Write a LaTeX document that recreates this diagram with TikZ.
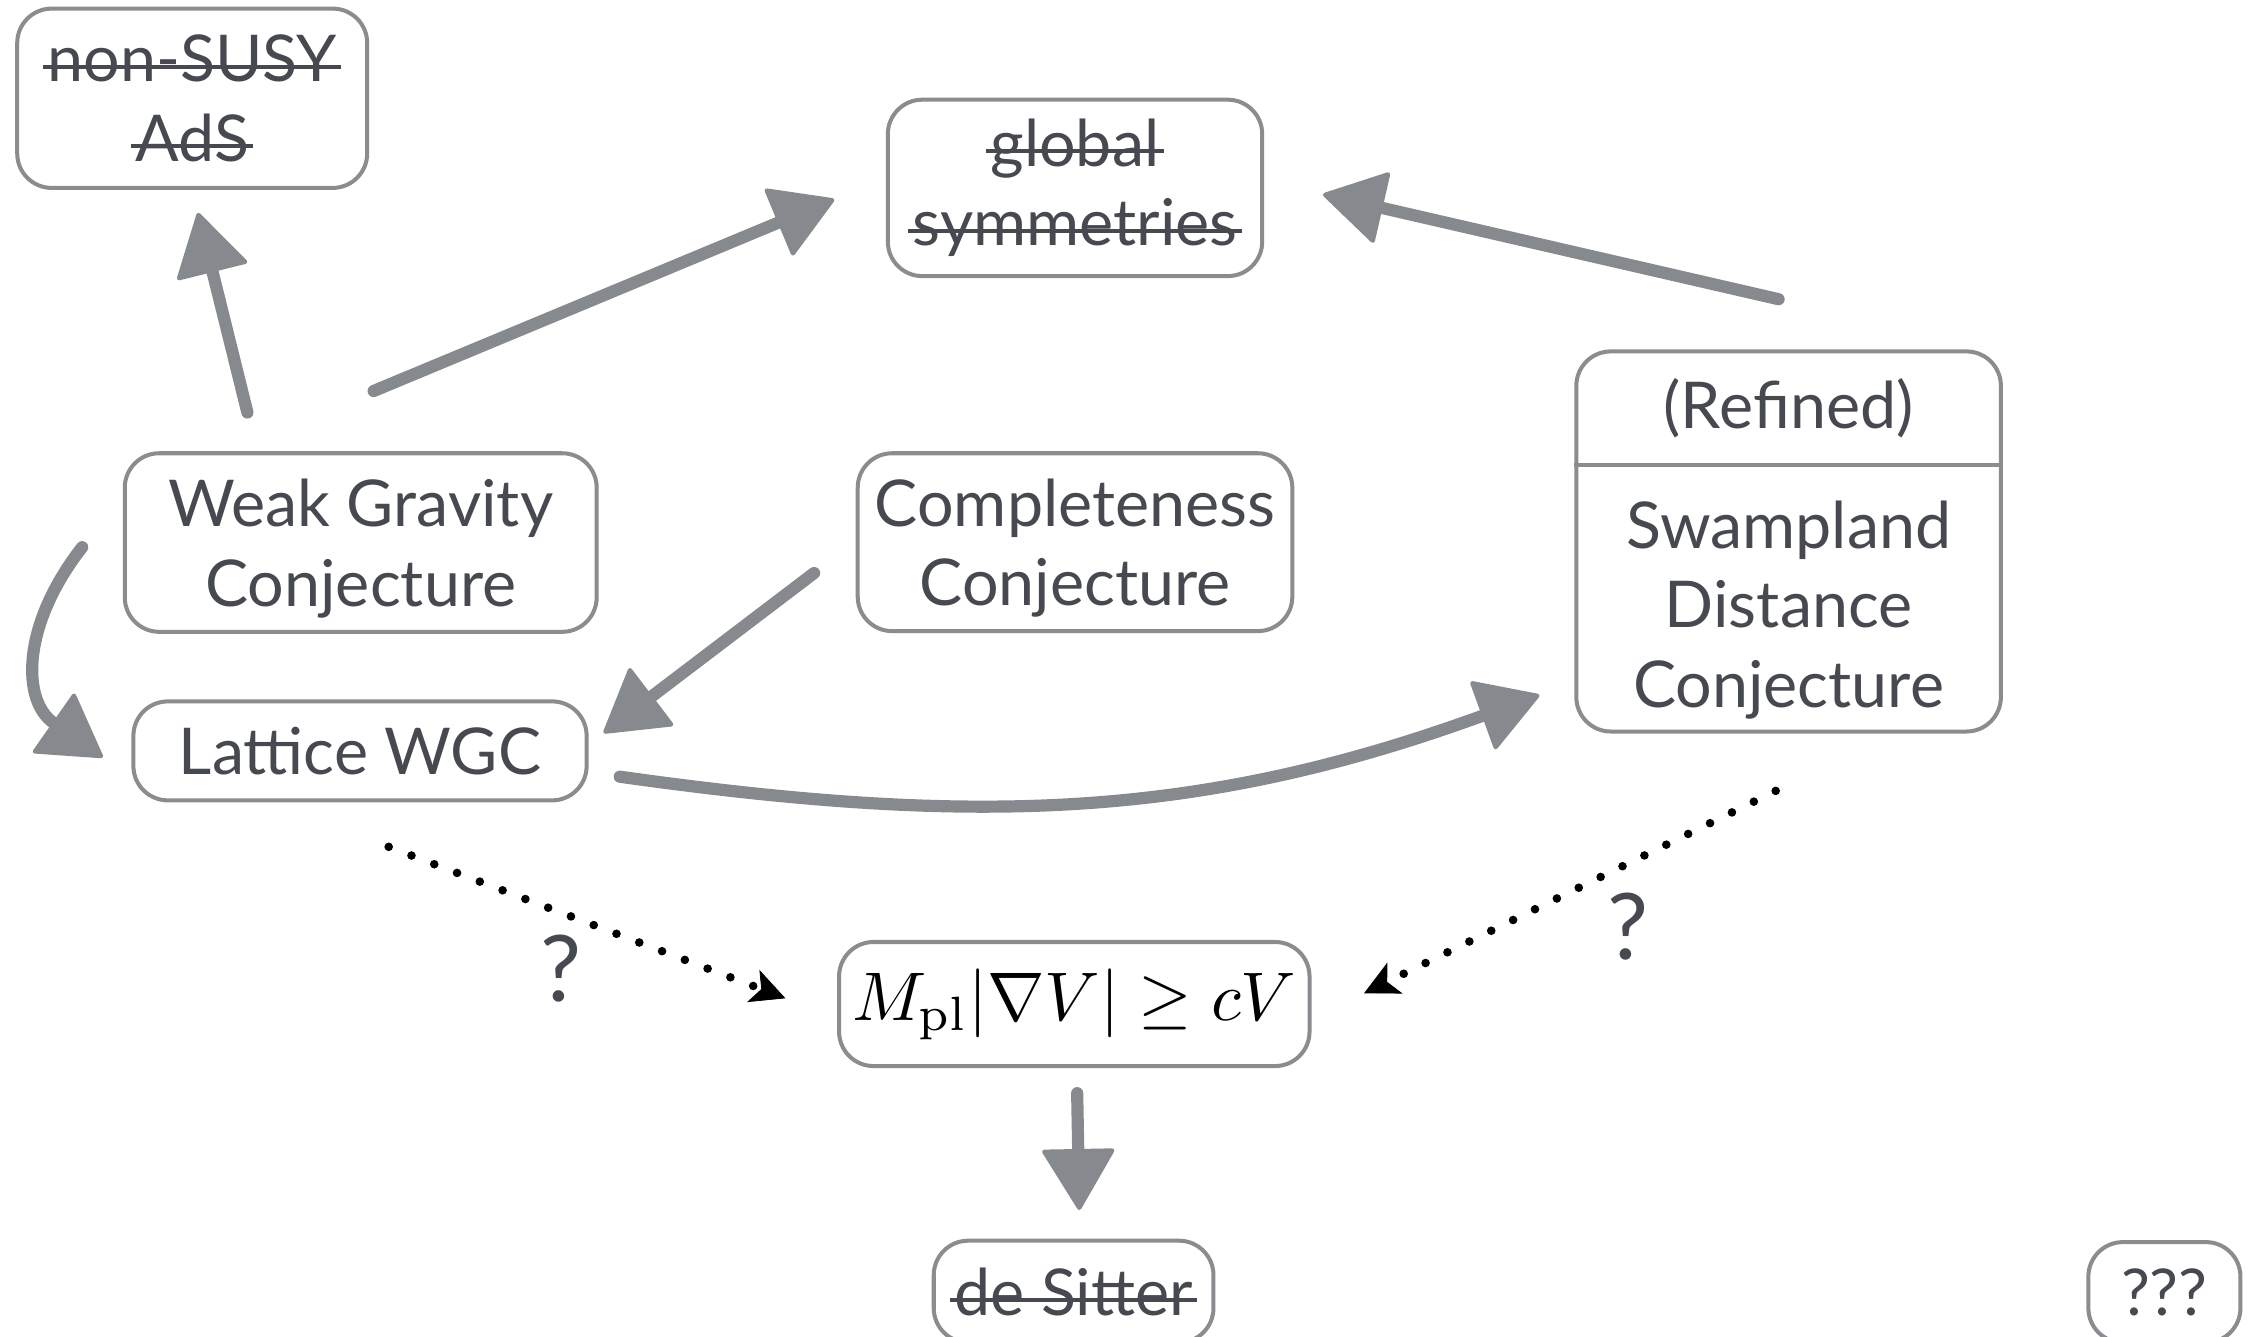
\documentclass[tikz,border=0pt]{standalone}
\usepackage[no-math]{fontspec}
\setmainfont{Lato}
\usetikzlibrary{arrows.meta,calc}
\definecolor{txtc}{HTML}{464A50}
\definecolor{bordc}{HTML}{8A8C90}
\definecolor{arrc}{HTML}{86898D}
\newcommand{\bigtxt}{\fontsize{45}{55.5}\selectfont}
\newcommand{\qtxt}{\fontsize{64}{70}\selectfont}
\newlength{\stkw}
\newcommand{\stk}[1]{\settowidth{\stkw}{#1}\makebox[0pt][l]{\hspace*{-3pt}\rule[0.2em]{\dimexpr\stkw+6pt\relax}{2.8pt}}#1}
\begin{document}
\begin{tikzpicture}[x=1pt,y=-1pt,
  box/.style={draw=bordc, line width=2.8pt, rounded corners=24pt, text=txtc,
    align=center, inner sep=0pt, font=\bigtxt},
  plain/.style={text=txtc, align=center, inner sep=0pt, font=\bigtxt},
  bigarrow/.style={draw=arrc, line width=8.5pt, line cap=round,
    -{Triangle[length=44pt,width=52pt,round,line width=3pt]}},
  dotarrow/.style={draw=black, line width=6pt, line cap=round,
    dash pattern=on 0pt off 17pt,
    -{Stealth[length=24pt,width=24pt,inset=6pt,line width=0.5pt]}},
  qlabel/.style={text=txtc, inner sep=0pt, font=\qtxt}]
\useasboundingbox (0,0) rectangle (1568,932);
\fill[white] (0,0) rectangle (1568,932);
\clip (0,0) rectangle (1568,932);

% nodes
\node[box, minimum width=244pt, minimum height=125pt] (nonsusy) at (134,68.5)
  {\stk{non-SUSY}\\\stk{AdS}};
\node[box, minimum width=261pt, minimum height=123pt] (global) at (749.5,131)
  {\stk{global}\\\stk{symmetries}};
\node[box, minimum width=329pt, minimum height=124.5pt, text depth=0pt] (wgc) at (251.5,378.25)
  {Weak Gravity\\Conjecture};
\node[box, minimum width=303pt, minimum height=124pt, text depth=0pt] (comp) at (749.5,378)
  {Completeness\\Conjecture};
\node[box, minimum width=296pt, minimum height=265pt] (sdc) at (1247,377.5) {};
\coordinate (sdcdiv) at (1247,324);
\draw[draw=bordc, line width=2.8pt] (sdc.west |- sdcdiv) -- (sdc.east |- sdcdiv);
\node[plain] (sdchead) at (1247,284.5) {(Refined)};
\node[plain, text depth=0pt] (sdcbody) at (1247,421) {Swampland\\Distance\\Conjecture};
\node[box, minimum width=316pt, minimum height=69pt] (lattice) at (251,523.5)
  {Lattice WGC};
\node[box, minimum width=328pt, minimum height=86.5pt, text=black] (formula) at (749,700)
  {\scalebox{4.8}{\fontsize{10}{12}\selectfont$M_{\mathrm{pl}}|\nabla V|\geq cV$}};
\node[box, minimum width=195pt, minimum height=71pt] (desitter) at (748.5,900.5)
  {\stk{de Sitter}};
\node[box, minimum width=106pt, minimum height=70pt] (qqq) at (1509,901) {???};

% solid arrows
\draw[bigarrow] ($(wgc.north)+(-79,-27)$) -- ($(nonsusy.south)+(4,16)$);
\draw[bigarrow] ($(wgc.north)+(9,-42)$) -- ($(global.west)+(-36,8)$);
\draw[bigarrow] ($(sdc.north)+(-7,-35)$) -- ($(global.east)+(41,4.5)$);
\draw[bigarrow] ($(comp.west)+(-29,21.5)$) -- ($(lattice.east)+(10.5,-12.5)$);
\draw[bigarrow] ($(wgc.west)+(-28.3,3.25)$) to[out=232,in=145,looseness=1.2] ($(lattice.west)+(-20,4.5)$);
\draw[bigarrow] ($(lattice.east)+(21.7,18)$) to[out=-8,in=200] ($(sdc.west)+(-24.4,107.1)$);
\draw[bigarrow] ($(formula.south)+(2,17.5)$) -- ($(desitter.north)+(4,-20)$);

% dotted arrows
\draw[dotarrow] ($(lattice.south)+(20,31)$) -- ($(formula.west)+(-36,-4)$);
\draw[dotarrow] ($(sdc.south)+(-9,40)$) -- ($(formula.east)+(36.6,-7.5)$);
\node[qlabel] (q1) at (391,675) {?};
\node[qlabel] (q2) at (1135,646) {?};
\end{tikzpicture}
\end{document}
